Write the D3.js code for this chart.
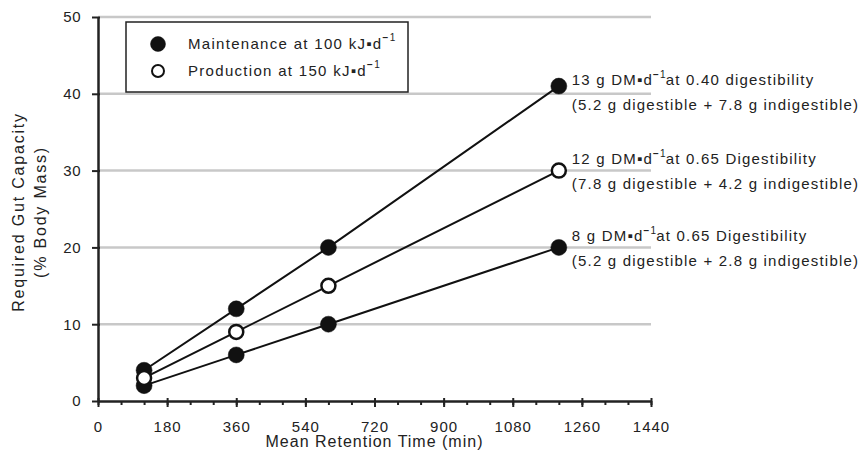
<!DOCTYPE html>
<html>
<head>
<meta charset="utf-8">
<script src="https://cdn.jsdelivr.net/npm/d3@7"></script>
<style>
  body { margin: 0; background: #fff; }
  svg text { font-family: "Liberation Sans", Arial, sans-serif; fill: #222; }
</style>
</head>
<body>
<svg id="chart" width="862" height="461"></svg>
<script>
	"use strict";

	// Mean retention time (min)
	var retentionTimes = [120, 360, 600, 1200];

	// Required gut capacity (% body mass)
	var maint13 = [4, 12, 20, 41];
	var prod12 = [3, 9, 15, 30];
	var maint8 = [2, 6, 10, 20];

	var xTicks = [0, 180, 360, 540, 720, 900, 1080, 1260, 1440];
	var yTicks = [0, 10, 20, 30, 40, 50];

	var seriesLabels = [
		["13 g DM\u25AAd", "at 0.40 digestibility", "(5.2 g digestible + 7.8 g indigestible)"],
		["12 g DM\u25AAd", "at 0.65 Digestibility", "(7.8 g digestible + 4.2 g indigestible)"],
		["8 g DM\u25AAd", "at 0.65 Digestibility", "(5.2 g digestible + 2.8 g indigestible)"]
	];
	var legendLabels = ["Maintenance at 100 kJ\u25AAd", "Production at 150 kJ\u25AAd"];

	var series = [
		{ values: maint13, open: false, label: seriesLabels[0] },
		{ values: prod12, open: true, label: seriesLabels[1] },
		{ values: maint8, open: false, label: seriesLabels[2] }
	];
	// vertical nudge of each end label relative to its last point
	var labelNudge = [-1, -7, -6];

	var margin = { left: 98, top: 17, right: 211, bottom: 60 };
	var width = 862 - margin.left - margin.right,
		height = 461 - margin.top - margin.bottom;

	var svg = d3.select("#chart");
	var g = svg.append("g").attr("transform", "translate(" + margin.left + "," + margin.top + ")");

	var x = d3.scaleLinear().domain([0, 1440]).range([0, width]);
	var y = d3.scaleLinear().domain([0, 50]).range([height, 0]);

	// grid lines
	g.selectAll(".grid").data(yTicks.filter(function(d) { return d > 0; }))
		.enter().append("line")
		.attr("class", "grid")
		.attr("x1", 0).attr("x2", x(1440))
		.attr("y1", function(d) { return y(d); }).attr("y2", function(d) { return y(d); })
		.style("stroke", "#c8c8c8").style("stroke-width", 2.5);

	// x axis: minor ticks every 60, major every 180
	var xMinor = g.append("g").attr("transform", "translate(0," + height + ")");
	xMinor.call(d3.axisBottom(x).tickValues(d3.range(0, 1441, 60)).tickSize(4).tickSizeOuter(0).tickFormat(""));
	xMinor.select(".domain").remove();
	xMinor.selectAll(".tick line").style("stroke", "#222").style("stroke-width", 2);

	var xAxis = g.append("g").attr("transform", "translate(0," + height + ")");
	xAxis.call(d3.axisBottom(x).tickValues(xTicks).tickSize(6).tickSizeOuter(0).tickPadding(14).tickFormat(d3.format("d")));
	xAxis.attr("font-size", null).attr("font-family", null);
	xAxis.select(".domain").style("stroke", "#222").style("stroke-width", 2.5);
	xAxis.selectAll(".tick line").attr("y1", -3).style("stroke", "#222").style("stroke-width", 2);
	xAxis.selectAll(".tick text").style("fill", "#222").style("font-size", "15px").style("letter-spacing", "1px");

	var yAxis = g.append("g");
	yAxis.call(d3.axisLeft(y).tickValues(yTicks).tickSize(6).tickSizeOuter(0).tickPadding(11));
	yAxis.attr("font-size", null).attr("font-family", null);
	yAxis.select(".domain").style("stroke", "#222").style("stroke-width", 2.5);
	yAxis.selectAll(".tick line").attr("x1", 2).style("stroke", "#222").style("stroke-width", 2);
	yAxis.selectAll(".tick text").style("fill", "#222").style("font-size", "15px").style("letter-spacing", "0.5px");

	// axis titles
	svg.append("text")
		.attr("x", margin.left + x(720)).attr("y", 447)
		.attr("text-anchor", "middle")
		.style("font-size", "16px").style("letter-spacing", "1px")
		.text("Mean Retention Time (min)");

	var yTitle = svg.append("text")
		.attr("transform", "translate(24,212) rotate(-90)")
		.attr("text-anchor", "middle")
		.style("font-size", "16px").style("letter-spacing", "1.8px");
	yTitle.append("tspan").attr("x", 0).attr("dy", 0).text("Required Gut Capacity");
	yTitle.append("tspan").attr("x", 0).attr("dy", "1.35em").text("(% Body Mass)");

	// lines and points
	var line = d3.line()
		.x(function(d, i) { return x(retentionTimes[i]); })
		.y(function(d) { return y(d); });

	series.forEach(function(s) {
		g.append("path").datum(s.values)
			.attr("d", line)
			.style("fill", "none").style("stroke", "#111").style("stroke-width", 2);
	});

	// filled markers first, open markers on top
	var drawOrder = series.filter(function(s) { return !s.open; })
		.concat(series.filter(function(s) { return s.open; }));
	drawOrder.forEach(function(s) {
		g.selectAll(null).data(s.values).enter().append("circle")
			.attr("cx", function(d, i) { return x(retentionTimes[i]); })
			.attr("cy", function(d) { return y(d); })
			.attr("r", s.open ? 7 : 8)
			.style("fill", s.open ? "#fff" : "#111")
			.style("stroke", "#111").style("stroke-width", s.open ? 2.5 : 0.5);
	});

	// end labels
	series.forEach(function(s, i) {
		var lastVal = s.values[s.values.length - 1];
		var lx = x(retentionTimes[retentionTimes.length - 1]) + 13;
		var ly = y(lastVal) + labelNudge[i];
		var t = g.append("text").attr("x", lx).attr("y", ly)
			.style("font-size", "15px").style("letter-spacing", "1.2px");
		t.append("tspan").text(s.label[0]);
		t.append("tspan").attr("dy", -7).style("font-size", "10px").style("font-weight", "bold").text("\u2212");
		t.append("tspan").style("font-size", "10px").text("1");
		t.append("tspan").attr("dy", 7).attr("dx", -1).text(s.label[1]);
		g.append("text").attr("x", lx).attr("y", ly + 25)
			.style("font-size", "15px").style("letter-spacing", "1.2px")
			.text(s.label[2]);
	});

	// legend
	var legend = svg.append("g").attr("transform", "translate(126,22)");
	legend.append("rect").attr("width", 282).attr("height", 70)
		.style("fill", "#fff").style("stroke", "#222").style("stroke-width", 1.5);
	legendLabels.forEach(function(text, i) {
		var open = i === 1;
		var cy = 22 + i * 27;
		legend.append("circle").attr("cx", 32).attr("cy", cy)
			.attr("r", open ? 6 : 7.5)
			.style("fill", open ? "#fff" : "#111")
			.style("stroke", "#111").style("stroke-width", open ? 2 : 0.5);
		var t = legend.append("text").attr("x", 62).attr("y", cy + 5)
			.style("font-size", "15px").style("letter-spacing", "1.3px");
		t.append("tspan").text(text);
		t.append("tspan").attr("dy", -8).style("font-size", "10px").style("font-weight", "bold").text("\u2212");
		t.append("tspan").style("font-size", "10px").text("1");
	});
</script>
</body>
</html>
